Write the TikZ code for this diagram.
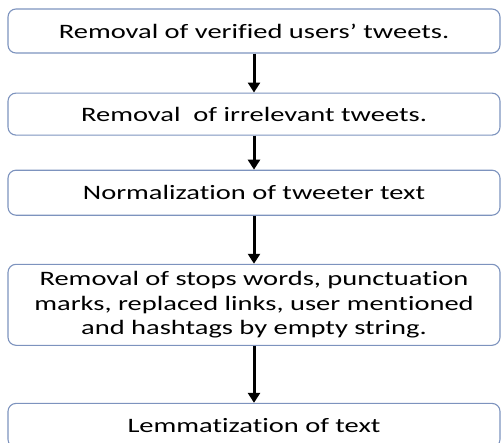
\documentclass[tikz,border=0pt]{standalone}
\usepackage{fontspec}
\setmainfont[FakeStretch=1.39,Ligatures=NoCommon]{Carlito}
\usetikzlibrary{positioning,arrows.meta}

\definecolor{boxline}{RGB}{125,147,190}
\tikzset{
	stage/.style = {draw=boxline, line width=1.1pt, rounded corners=8pt,
		minimum width=492pt, align=center, inner sep=0pt,
		font=\fontsize{20.5}{24.5}\selectfont},
	flow/.style = {line width=3pt, -{Triangle[width=12pt,length=10pt]}}
}

\begin{document}
\begin{tikzpicture}
\useasboundingbox (0,0) rectangle (503pt,-442pt);
\node (s1) [stage, minimum height=44pt] at (254pt,-31pt) {Removal of verified users’ tweets.};
\node (s2) [stage, minimum height=42pt, below=39pt of s1] {Removal\ \ of irrelevant tweets.};
\node (s3) [stage, minimum height=45pt, below=34pt of s2] {Normalization of tweeter text};
\node (s4) [stage, minimum height=81pt, below=48pt of s3] {Removal of stops words, punctuation\\
	marks, replaced links, user mentioned\\
	and hashtags by empty string.};
\node (s5) [stage, minimum height=44pt, below=57pt of s4] {Lemmatization of text};
\draw [flow] (s1.south) -- (s2.north);
\draw [flow] (s2.south) -- (s3.north);
\draw [flow] (s3.south) -- (s4.north);
\draw [flow] (s4.south) -- (s5.north);
\end{tikzpicture}
\end{document}
